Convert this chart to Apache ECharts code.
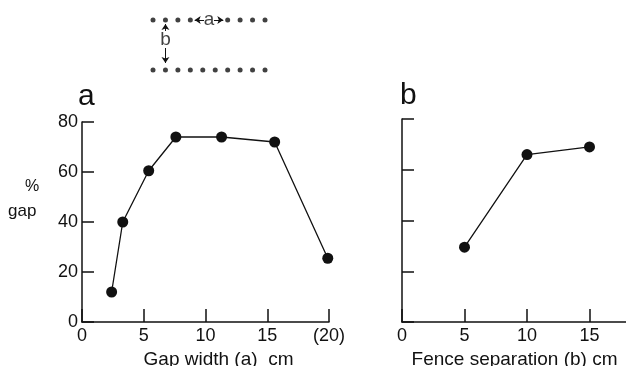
<!DOCTYPE html>
<html>
<head>
<meta charset="utf-8">
<script src="https://cdn.jsdelivr.net/npm/echarts@6/dist/echarts.min.js"></script>
<style>
  html, body { margin: 0; padding: 0; background: #fff; }
  #chart { width: 626px; height: 366px; }
</style>
</head>
<body>
<div id="chart"></div>
<script>
// panel a: % gap vs gap width
const gapWidth = [2.4, 3.3, 5.4, 7.6, 11.3, 15.6, 19.9];
const gapPct = [12, 40, 60.5, 74, 74, 72, 25.5];
// panel b: % gap vs fence separation
const fenceSep = [5, 10, 15];
const fencePct = [29.5, 66, 69];
// tick values
const xTicksA = [0, 5, 10, 15, 20];
const xTicksB = [0, 5, 10, 15];
const yTicks = [0, 20, 40, 60, 80];
// inset sketch: fence posts (index along the fence)
const topRow = [0, 1, 2, 3, 6, 7, 8, 9];
const bottomRow = [0, 1, 2, 3, 4, 5, 6, 7, 8, 9];

const chart = echarts.init(document.getElementById('chart'));

const ink = '#111';
const font = '"Liberation Sans", Arial, sans-serif';

function xAxisCfg(idx, max, ticks, name, fmt) {
    return {
        type: 'value', gridIndex: idx, min: 0, max: max, interval: 5,
        name: name, nameLocation: 'middle', nameGap: 24,
        nameTextStyle: { color: ink, fontFamily: font, fontSize: 19, padding: idx === 0 ? [0, 0, 0, 26] : 0 },
        axisLine: { lineStyle: { color: ink, width: 1.5 } },
        axisTick: { inside: true, length: 13, lineStyle: { color: ink, width: 1.5 }, customValues: ticks },
        axisLabel: { color: ink, fontFamily: font, fontSize: 18, margin: 5, customValues: ticks, formatter: fmt },
        splitLine: { show: false }
    };
}

function yAxisCfg(idx, showLabels) {
    return {
        type: 'value', gridIndex: idx, min: 0, max: 80, interval: 20,
        axisLine: { show: true, lineStyle: { color: ink, width: 1.5 } },
        axisTick: { show: true, inside: true, length: 12, lineStyle: { color: ink, width: 1.5 }, customValues: yTicks },
        axisLabel: { show: showLabels, color: ink, fontFamily: font, fontSize: 18, margin: 4, customValues: yTicks },
        splitLine: { show: false }
    };
}

const option = {
    backgroundColor: '#fff',
    animation: false,
    title: [
        { text: 'a', left: 73, top: 77, textStyle: { fontFamily: font, fontWeight: 'normal', fontSize: 30, color: ink } },
        { text: 'b', left: 395, top: 76, textStyle: { fontFamily: font, fontWeight: 'normal', fontSize: 30, color: ink } },
        { text: '%', left: 20, top: 174, textStyle: { fontFamily: font, fontWeight: 'normal', fontSize: 16, color: ink } },
        { text: 'gap', left: 3, top: 198, textStyle: { fontFamily: font, fontWeight: 'normal', fontSize: 17, color: ink } }
    ],
    grid: [
        { left: 82, top: 122, width: 247, height: 200, outerBoundsMode: 'none' },
        { left: 402, top: 119, width: 225, height: 203, outerBoundsMode: 'none' },
        { left: 153, top: 20, width: 112, height: 50, outerBoundsMode: 'none' }
    ],
    xAxis: [
        xAxisCfg(0, 20, xTicksA, 'Gap width (a)  cm', v => (v === 20 ? '(20)' : String(v))),
        xAxisCfg(1, 18, xTicksB, 'Fence separation (b) cm', v => String(v)),
        { type: 'value', gridIndex: 2, min: 0, max: 9, show: false }
    ],
    yAxis: [
        yAxisCfg(0, true),
        yAxisCfg(1, false),
        { type: 'value', gridIndex: 2, min: 0, max: 1, show: false }
    ],
    series: [
        {
            type: 'line', xAxisIndex: 0, yAxisIndex: 0,
            data: gapWidth.map((x, i) => [x, gapPct[i]]),
            symbol: 'circle', symbolSize: 11,
            itemStyle: { color: ink },
            lineStyle: { color: ink, width: 1.3 }
        },
        {
            type: 'line', xAxisIndex: 1, yAxisIndex: 1,
            data: fenceSep.map((x, i) => [x, fencePct[i]]),
            symbol: 'circle', symbolSize: 11,
            itemStyle: { color: ink },
            lineStyle: { color: ink, width: 1.3 }
        },
        {
            type: 'scatter', xAxisIndex: 2, yAxisIndex: 2,
            data: topRow.map(i => [i, 1]).concat(bottomRow.map(i => [i, 0])),
            symbolSize: 5, itemStyle: { color: ink },
            markLine: {
                silent: true, symbol: ['none', 'arrow'], symbolSize: 6,
                label: { show: false },
                lineStyle: { color: ink, width: 1, type: 'solid' },
                data: [
                    [{ coord: [4.1, 1] }, { coord: [3.35, 1] }],
                    [{ coord: [4.9, 1] }, { coord: [5.65, 1] }],
                    [{ coord: [1, 0.78] }, { coord: [1, 0.92] }],
                    [{ coord: [1, 0.44] }, { coord: [1, 0.14] }]
                ]
            }
        },
        {
            type: 'scatter', xAxisIndex: 2, yAxisIndex: 2,
            data: [[4.5, 1, 'a'], [1, 0.6, 'b']],
            symbol: 'circle', symbolSize: 1,
            itemStyle: { color: 'rgba(0,0,0,0)' },
            label: {
                show: true, position: 'inside', color: ink, fontFamily: font, fontSize: 19,
                formatter: p => p.value[2]
            }
        }
    ]
};

chart.setOption(option);
</script>
</body>
</html>
